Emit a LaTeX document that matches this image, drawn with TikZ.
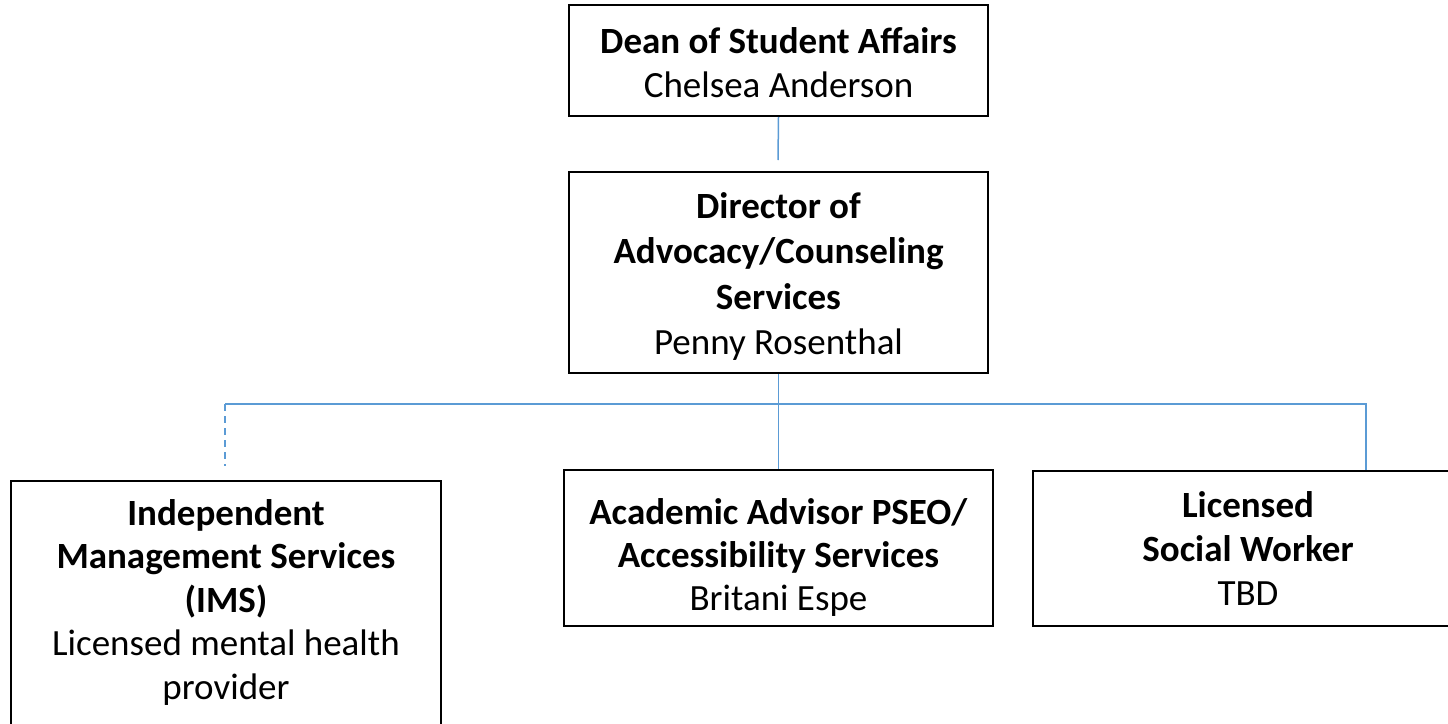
\documentclass[tikz,border=0pt]{standalone}
\usepackage{fontspec}
\setmainfont{Carlito}
\definecolor{conn}{HTML}{5B9BD5}
\begin{document}
\begin{tikzpicture}[x=1pt,y=-1pt,
  box/.style={draw=black, line width=2pt, rectangle, inner sep=0pt},
  txt/.style={align=center, inner sep=0pt, font=\fontsize{37}{44}\selectfont},
  link/.style={draw=conn, line width=1.5pt},
  dashlink/.style={link, dash pattern=on 7pt off 5pt}]
\useasboundingbox (0,0) rectangle (1448,723);
% boxes
\node[box, minimum width=419pt, minimum height=111pt] (dean) at (778.5,60.5) {};
\node[box, minimum width=419pt, minimum height=201pt] (dir) at (778.5,272.5) {};
\node[box, minimum width=430pt, minimum height=260pt, anchor=north] (ims) at (226,480) {};
\node[box, minimum width=429pt, minimum height=156pt] (acad) at (778.5,548) {};
\node[box, minimum width=430pt, minimum height=155pt] (lsw) at (1248,548.5) {};
% texts
\node[txt] (deant) at ([yshift=-2pt]dean.center)
  {\textbf{Dean of Student Affairs}\\Chelsea Anderson};
\node[txt, font=\fontsize{37}{45.3}\selectfont] (dirt) at ([yshift=-4pt]dir.center)
  {\textbf{Director of}\\\textbf{Advocacy/Counseling}\\\textbf{Services}\\Penny Rosenthal};
\node[txt, font=\fontsize{37}{43.5}\selectfont] (imst) at (226,602)
  {\textbf{Independent}\\\textbf{Management Services}\\\textbf{(IMS)}\\Licensed mental health\\provider};
\node[txt, font=\fontsize{37}{43}\selectfont] (acadt) at ([yshift=-9pt]acad.center)
  {\textbf{Academic Advisor PSEO/}\\\textbf{Accessibility Services}\\Britani Espe};
\node[txt] (lswt) at (lsw.center)
  {\textbf{Licensed}\\\textbf{Social Worker}\\TBD};
% connectors
\coordinate (dd) at (778,160);
\coordinate (hl) at (225,404);
\coordinate (hr) at (1366,404);
\coordinate (imsend) at (225,466);
\draw[link] (dean.south) -- (dd);
\draw[link] (dir.south) -- (acad.north);
\draw[link] (hl) -- (hr) -- (hr |- lsw.north);
\draw[dashlink] (hl) -- (imsend);
\end{tikzpicture}
\end{document}
